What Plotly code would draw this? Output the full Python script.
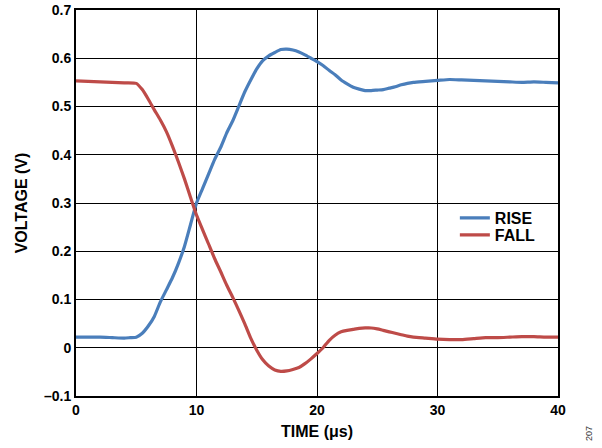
import plotly.graph_objects as go

rise_t = [0, 1, 2, 3, 4, 4.5, 5, 5.5, 6, 6.5, 7, 7.5, 8, 8.5, 9, 9.5, 10, 10.5, 11, 11.5,
          12, 12.5, 13, 13.5, 14, 14.5, 15, 15.5, 16, 16.5, 17, 17.5, 18, 18.5, 19, 19.5,
          20, 20.5, 21, 21.5, 22, 22.5, 23, 23.5, 24, 24.5, 25, 25.5, 26, 26.5, 27, 27.5,
          28, 29, 30, 31, 32, 33, 34, 35, 36, 37, 38, 39, 40]
rise_v = [0.022, 0.022, 0.022, 0.021, 0.020, 0.021, 0.022, 0.030, 0.045, 0.065, 0.095, 0.120,
          0.145, 0.175, 0.210, 0.255, 0.300, 0.330, 0.360, 0.390, 0.415, 0.445, 0.470, 0.500,
          0.530, 0.555, 0.578, 0.595, 0.605, 0.612, 0.618, 0.619, 0.617, 0.613, 0.607, 0.600,
          0.593, 0.585, 0.575, 0.566, 0.555, 0.547, 0.540, 0.536, 0.533, 0.533, 0.534, 0.535,
          0.538, 0.541, 0.545, 0.548, 0.550, 0.552, 0.554, 0.556, 0.555, 0.554, 0.553, 0.552,
          0.551, 0.550, 0.551, 0.550, 0.549]

fall_t = [0, 1, 2, 3, 4, 5, 5.5, 6, 6.5, 7, 7.5, 8, 8.5, 9, 9.5, 10, 10.5, 11, 11.5, 12,
          12.5, 13, 13.5, 14, 14.5, 15, 15.5, 16, 16.5, 17, 17.5, 18, 18.5, 19, 19.5, 20,
          20.5, 21, 21.5, 22, 22.5, 23, 23.5, 24, 24.5, 25, 25.5, 26, 26.5, 27, 27.5, 28,
          29, 30, 31, 32, 33, 34, 35, 36, 37, 38, 39, 40]
fall_v = [0.553, 0.552, 0.551, 0.550, 0.549, 0.548, 0.535, 0.515, 0.493, 0.472, 0.448, 0.418,
          0.385, 0.350, 0.312, 0.275, 0.245, 0.215, 0.185, 0.158, 0.130, 0.105, 0.078, 0.050,
          0.020, -0.005, -0.025, -0.038, -0.046, -0.049, -0.048, -0.045, -0.041, -0.033,
          -0.023, -0.012, 0.000, 0.015, 0.026, 0.033, 0.036, 0.038, 0.040, 0.041, 0.041,
          0.039, 0.036, 0.033, 0.030, 0.027, 0.024, 0.022, 0.020, 0.018, 0.017, 0.017, 0.019,
          0.021, 0.021, 0.022, 0.023, 0.023, 0.022, 0.022]

x_ticks = [0, 10, 20, 30, 40]
y_ticks = [-0.1, 0, 0.1, 0.2, 0.3, 0.4, 0.5, 0.6, 0.7]
y_ticktext = ["–0.1", "0", "0.1", "0.2", "0.3", "0.4", "0.5", "0.6", "0.7"]

FONT = "Liberation Sans, Arial, sans-serif"

fig = go.Figure()
fig.add_trace(go.Scatter(x=rise_t, y=rise_v, mode="lines", name="RISE", legend="legend",
                         line=dict(color="#4A7EBB", width=3.2, shape="spline", smoothing=0.5)))
fig.add_trace(go.Scatter(x=fall_t, y=fall_v, mode="lines", name="FALL", legend="legend2",
                         line=dict(color="#BE4B48", width=3.2, shape="spline", smoothing=0.5)))

axis_common = dict(
    showgrid=True, gridcolor="#000000", gridwidth=1.3,
    showline=True, linecolor="#000000", linewidth=2, mirror=True,
    ticks="", zeroline=True, zerolinecolor="#000000", zerolinewidth=1.3,
    automargin=False,
    tickfont=dict(family=FONT, size=14, color="#000000", weight="bold"),
)

legend_common = dict(
    xanchor="left", yanchor="middle", x=0.786,
    bgcolor="rgba(255,255,255,0)", borderwidth=0,
    font=dict(family=FONT, size=16, color="#000000", weight="bold"),
    itemwidth=30,
)

fig.update_layout(
    width=602, height=448,
    margin=dict(l=76, r=44, t=10, b=52),
    paper_bgcolor="white", plot_bgcolor="white",
    font=dict(family=FONT, color="#000000"),
    xaxis=dict(range=[0, 40], tickvals=x_ticks, **axis_common,
               title=dict(text="TIME (μs)", standoff=9,
                          font=dict(family=FONT, size=16, color="#000000", weight="bold"))),
    yaxis=dict(range=[-0.1, 0.7], tickvals=y_ticks, ticktext=y_ticktext, **axis_common,
               title=dict(text="VOLTAGE (V)", standoff=12,
                          font=dict(family=FONT, size=16, color="#000000", weight="bold"))),
    legend=dict(y=0.461, **legend_common),
    legend2=dict(y=0.417, **legend_common),
    showlegend=True,
)

fig.add_annotation(text="207", xref="paper", yref="paper", x=1.064, y=-0.096,
                   xanchor="center", yanchor="middle",
                   showarrow=False, textangle=-90,
                   font=dict(family=FONT, size=9, color="#333333"))

fig.write_html("out.html", config={"displayModeBar": False},
               post_script="document.body.style.margin='0';document.body.style.overflow='hidden';")
